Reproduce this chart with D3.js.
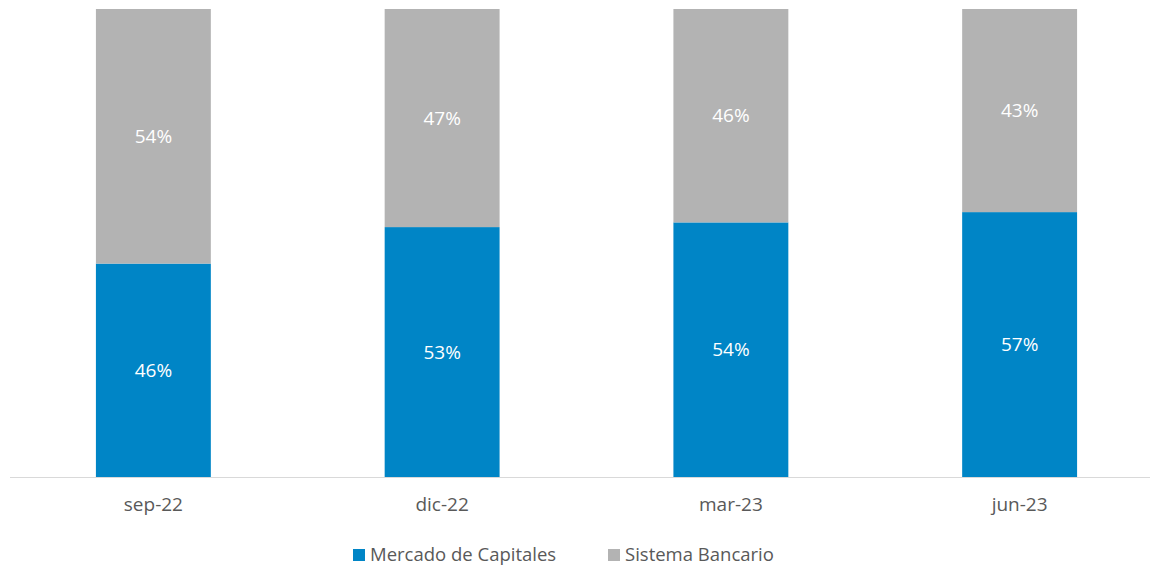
<!DOCTYPE html>
<html>
<head>
<meta charset="utf-8">
<script src="https://cdn.jsdelivr.net/npm/d3@7"></script>
<style>
  body { margin: 0; background: #fff; }
  text { font-family: "Open Sans", "DejaVu Sans", sans-serif; }
</style>
</head>
<body>
<div id="chart"></div>
<script>
// data
var periodos = ["sep-22", "dic-22", "mar-23", "jun-23"];
var mercado = [45.6, 53.4, 54.4, 56.6];
var sistema = [54.4, 46.6, 45.6, 43.4];
var series = ["Mercado de Capitales", "Sistema Bancario"];
var colores = ["#0085C6", "#B3B3B3"];

var W = 1150, H = 569;
var svg = d3.select("#chart").append("svg")
  .attr("width", W)
  .attr("height", H);

var x = d3.scaleBand()
  .domain(periodos)
  .range([9, 1164])
  .paddingInner(0.602)
  .paddingOuter(0.301);

var y = d3.scaleLinear().domain([0, 100]).range([477, 9]);

var rows = periodos.map(function (p, i) {
  return { periodo: p, mercado: mercado[i], sistema: sistema[i] };
});
var stack = d3.stack().keys(["mercado", "sistema"])(rows);

var layers = svg.selectAll(".layer")
  .data(stack)
  .enter().append("g")
  .attr("class", "layer")
  .attr("fill", function (d, i) { return colores[i]; });

layers.selectAll("rect")
  .data(function (d) { return d; })
  .enter().append("rect")
  .attr("x", function (d) { return x(d.data.periodo); })
  .attr("y", function (d) { return y(d[1]); })
  .attr("width", x.bandwidth())
  .attr("height", function (d) { return y(d[0]) - y(d[1]); });

layers.selectAll("text")
  .data(function (d) { return d; })
  .enter().append("text")
  .attr("x", function (d) { return x(d.data.periodo) + x.bandwidth() / 2; })
  .attr("y", function (d) { return (y(d[0]) + y(d[1])) / 2; })
  .attr("dy", "0.35em")
  .attr("text-anchor", "middle")
  .attr("fill", "#fff")
  .style("font-size", "19px")
  .text(function (d) { return Math.round(d[1] - d[0]) + "%"; });

// x axis
var xAxis = svg.append("g")
  .attr("transform", "translate(0,477)")
  .call(d3.axisBottom(x).tickSize(0).tickPadding(21));
xAxis.select(".domain").remove();
xAxis.selectAll("text")
  .attr("fill", "#595959")
  .style("font-size", "19px")
  .style("font-family", "'Open Sans', sans-serif");

svg.append("line")
  .attr("x1", 10).attr("x2", W)
  .attr("y1", 477.5).attr("y2", 477.5)
  .attr("stroke", "#D9D9D9")
  .attr("stroke-width", 1);

// legend
var legX = [353, 608];
var leg = svg.selectAll(".leg")
  .data(series)
  .enter().append("g")
  .attr("class", "leg")
  .attr("transform", function (d, i) { return "translate(" + legX[i] + ",549)"; });
leg.append("rect")
  .attr("width", 12).attr("height", 12)
  .attr("fill", function (d, i) { return colores[i]; });
leg.append("text")
  .attr("x", 17)
  .attr("y", 6)
  .attr("dy", "0.35em")
  .attr("fill", "#595959")
  .style("font-size", "18.5px")
  .text(function (d) { return d; });
</script>
</body>
</html>
